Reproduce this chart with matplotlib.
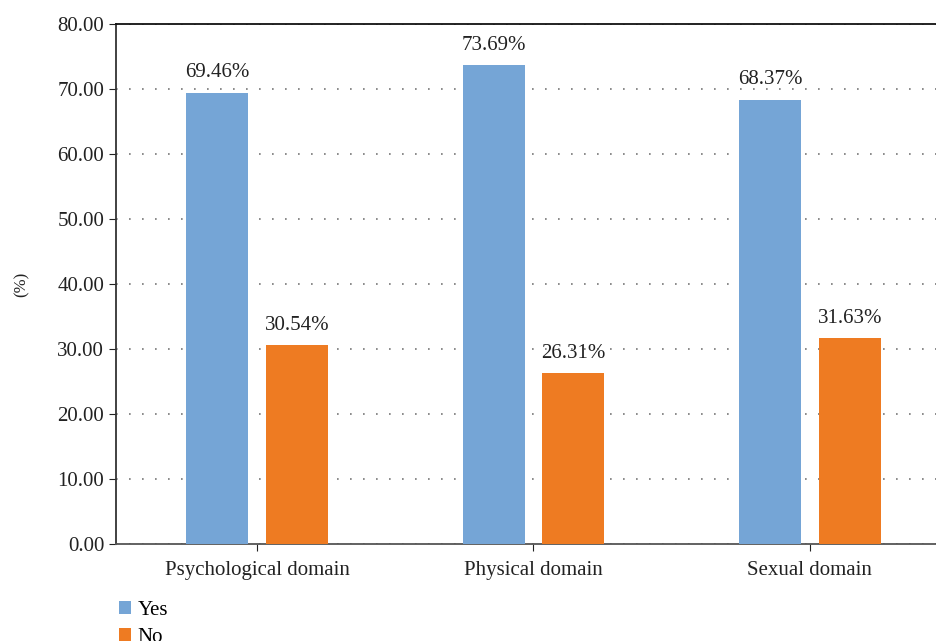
import numpy as np
import matplotlib
matplotlib.use("Agg")
import matplotlib.pyplot as plt

categories = ["Psychological domain", "Physical domain", "Sexual domain"]
yes_values = [69.46, 73.69, 68.37]
no_values = [30.54, 26.31, 31.63]
yticks = [0, 10, 20, 30, 40, 50, 60, 70, 80]

plt.rcParams["font.family"] = ["Liberation Serif", "DejaVu Serif"]

fig = plt.figure(figsize=(9.36, 6.41), dpi=100)
ax = fig.add_axes([116 / 936, 1 - 544 / 641, 820 / 936, 520 / 641])

x = np.arange(len(categories))
w = 0.224
off = 0.144
b1 = ax.bar(x - off, yes_values, w, color="#75a5d6", label="Yes", zorder=3)
b2 = ax.bar(x + off, no_values, w, color="#ee7b22", label="No", zorder=3)

for bars, vals in [(b1, yes_values), (b2, no_values)]:
    for r, v in zip(bars, vals):
        ax.text(r.get_x() + r.get_width() / 2, v + 1.6, f"{v:.2f}%",
                ha="center", va="bottom", fontsize=15, color="#222222")

ax.set_xlim(-0.51, 2.456)
ax.set_ylim(0, 80)
ax.set_yticks(yticks)
ax.set_yticklabels([f"{t:.2f}" for t in yticks])
ax.set_xticks(x)
ax.set_xticklabels(categories)
ax.tick_params(axis="both", labelsize=15, colors="#222222", direction="out", length=5)
ax.tick_params(axis="x", length=5, pad=7)
ax.set_ylabel("(%)", fontsize=12, labelpad=20, color="#222222")

ax.yaxis.grid(True, linestyle=(0, (1, 6.8)), color="#777777", linewidth=1.2, zorder=0)
ax.spines["right"].set_visible(False)
ax.spines["top"].set_color("#111111")
ax.spines["left"].set_color("#333333")
ax.spines["bottom"].set_color("#555555")
for s in ["top", "left", "bottom"]:
    ax.spines[s].set_linewidth(1.3)

fig.legend(handles=[b1, b2], labels=["Yes", "No"], loc="upper left",
           bbox_to_anchor=(104 / 936, 1 - 586 / 641), frameon=False,
           fontsize=15, handlelength=0.6, handleheight=0.6, handletextpad=0.3,
           labelspacing=0.42, borderpad=0.2)

fig.savefig("out.png", dpi=100)
